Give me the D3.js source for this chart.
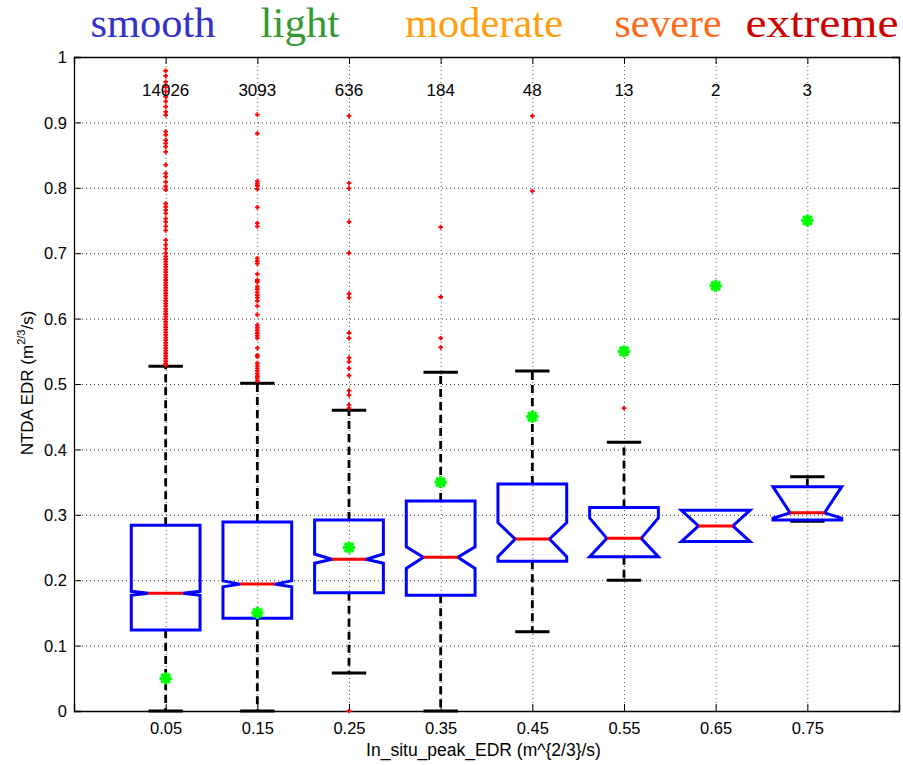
<!DOCTYPE html>
<html><head><meta charset="utf-8">
<script src="https://cdn.jsdelivr.net/npm/d3@7"></script>
<style>body{margin:0;background:#fff}svg{display:block}</style>
</head><body><svg id="c" width="903" height="765"></svg>
<script>
// ---- data ----
const categories = ["0.05","0.15","0.25","0.35","0.45","0.55","0.65","0.75"];
const counts = [14026, 3093, 636, 184, 48, 13, 2, 3];
const refValues = [0.05, 0.15, 0.25, 0.35, 0.45, 0.55, 0.65, 0.75];
const q1 =        [0.124, 0.142, 0.181, 0.177, 0.229, 0.236, 0.259, 0.292];
const medians =   [0.180, 0.194, 0.232, 0.235, 0.263, 0.264, 0.283, 0.303];
const q3 =        [0.284, 0.289, 0.292, 0.321, 0.347, 0.311, 0.307, 0.343];
const notchLo =   [0.177, 0.190, 0.226, 0.218, 0.236, 0.236, 0.259, 0.295];
const notchHi =   [0.183, 0.199, 0.240, 0.251, 0.288, 0.295, 0.307, 0.343];
const whiskerLo = [0.000, 0.000, 0.058, 0.000, 0.121, 0.200, null, 0.290];
const whiskerHi = [0.527, 0.501, 0.460, 0.518, 0.520, 0.411, null, 0.358];
const outliers = [
  [0.979,0.971,0.962,0.954,0.947,0.939,0.932,0.924,0.916,0.911,0.886,0.881,0.873,0.868,0.863,0.855,
   0.835,0.822,0.817,0.809,0.802,0.797,0.776,0.771,0.766,0.761,0.753,0.748,0.741,0.735,0.720,0.713,
   0.707,0.700,0.695,0.691,0.687,0.683,0.679,0.675,0.671,0.667,0.663,0.659,0.655,0.651,0.647,0.643,
   0.639,0.635,0.631,0.627,0.623,0.619,0.615,0.611,0.607,0.603,0.599,0.595,0.591,0.587,0.583,0.579,
   0.575,0.571,0.567,0.563,0.559,0.555,0.551,0.547,0.543,0.539,0.535,0.531,0.529],
  [0.912,0.883,0.810,0.806,0.803,0.798,0.770,0.746,0.741,0.692,0.688,0.684,0.668,0.659,0.656,0.649,
   0.645,0.640,0.636,0.632,0.627,0.619,0.606,0.590,0.586,0.582,0.578,0.574,0.570,0.555,0.544,0.542,
   0.532,0.528,0.524,0.520,0.516,0.512,0.509,0.505],
  [0.910,0.807,0.799,0.748,0.700,0.638,0.632,0.578,0.570,0.540,0.534,0.524,0.513,0.490,0.483,0.468,0.463,0.000],
  [0.740,0.633,0.570,0.556],
  [0.910,0.795],
  [0.463],
  [],
  []
];
const yTicks = [0,0.1,0.2,0.3,0.4,0.5,0.6,0.7,0.8,0.9,1];
const yTickLabels = ["0","0.1","0.2","0.3","0.4","0.5","0.6","0.7","0.8","0.9","1"];
const classNames = ["smooth","light","moderate","severe","extreme"];
const classColors = ["#3333cc","#339933","#ff9f10","#ff6a1a","#cc0000"];
const classCenters = [153, 300, 484, 668, 822];   // x of each class title (pixels of the reference)
const classWidths = [125, 79, 158, 107, 153];

// ---- layout ----
const L = 74, R = 899, T = 57, B = 711;
const svg = d3.select("#c");
const font = "'Liberation Sans', Arial, Helvetica, sans-serif";

const x = d3.scalePoint().domain(categories).range([L, R]).padding(1);
const y = d3.scaleLinear().domain([0, 1]).range([B, T]);
const step = x.step();
const boxW = step * 0.75;

// grid
const grid = svg.append("g");
grid.append("g").attr("transform", `translate(${L},0)`)
  .call(d3.axisLeft(y).tickValues(yTicks.filter(v => v > 0 && v < 1)).tickSize(-(R - L)).tickFormat(""))
  .call(g => g.select(".domain").remove())
  .call(g => g.selectAll("line").attr("stroke", "#333").attr("stroke-dasharray", "1,3"));
grid.append("g").attr("transform", `translate(0,${B})`)
  .call(d3.axisBottom(x).tickSize(-(B - T)).tickFormat(""))
  .call(g => g.select(".domain").remove())
  .call(g => g.selectAll("line").attr("stroke", "#555").attr("stroke-dasharray", "1,3"));

// axes
const axL = svg.append("g").attr("transform", `translate(${L},0)`)
  .call(d3.axisLeft(y).tickValues(yTicks).tickSize(-7).tickPadding(7).tickFormat((d, i) => yTickLabels[i]));
const axR = svg.append("g").attr("transform", `translate(${R},0)`)
  .call(d3.axisRight(y).tickValues(yTicks).tickSize(-7).tickFormat(""));
const axB = svg.append("g").attr("transform", `translate(0,${B})`)
  .call(d3.axisBottom(x).tickSize(-7).tickPadding(14));
const axT = svg.append("g").attr("transform", `translate(0,${T})`)
  .call(d3.axisTop(x).tickSize(-7).tickFormat(""));
[axL, axR, axB, axT].forEach(a => {
  a.select(".domain").attr("stroke", "#000").attr("stroke-width", 1.3);
  a.selectAll(".tick line").attr("stroke", "#000").attr("stroke-width", 1);
  a.selectAll("text").attr("font-family", font).attr("font-size", 16.5).attr("fill", "#000");
});
axB.selectAll("text").attr("y", 0).attr("dy", 0).attr("transform", "translate(0,23)");
axL.selectAll("text").attr("dy", "0.35em");

// boxes
const data = categories.map((c, i) => ({c, i}));
const gBox = svg.append("g");

// whiskers
data.forEach(d => {
  const i = d.i, cx = x(d.c);
  if (whiskerHi[i] !== null) {
    gBox.append("line").attr("x1", cx).attr("x2", cx).attr("y1", y(q3[i])).attr("y2", y(whiskerHi[i]))
      .attr("stroke", "#000").attr("stroke-width", 2.8).attr("stroke-dasharray", "8,5");
    gBox.append("line").attr("x1", cx).attr("x2", cx).attr("y1", y(q1[i])).attr("y2", y(whiskerLo[i]))
      .attr("stroke", "#000").attr("stroke-width", 2.8).attr("stroke-dasharray", "8,5");
    [whiskerHi[i], whiskerLo[i]].forEach(v => {
      gBox.append("line").attr("x1", cx - boxW / 4).attr("x2", cx + boxW / 4)
        .attr("y1", y(v)).attr("y2", y(v)).attr("stroke", "#000").attr("stroke-width", 3);
    });
  }
});

// notched boxes
const boxPath = i => {
  const cx = x(categories[i]);
  const l = cx - boxW / 2, r = cx + boxW / 2, il = cx - boxW / 4, ir = cx + boxW / 4;
  const p = d3.path();
  p.moveTo(l, y(q1[i])); p.lineTo(l, y(notchLo[i])); p.lineTo(il, y(medians[i]));
  p.lineTo(l, y(notchHi[i])); p.lineTo(l, y(q3[i])); p.lineTo(r, y(q3[i]));
  p.lineTo(r, y(notchHi[i])); p.lineTo(ir, y(medians[i])); p.lineTo(r, y(notchLo[i]));
  p.lineTo(r, y(q1[i])); p.closePath();
  return p.toString();
};
gBox.selectAll("path.box").data(data).join("path").attr("class", "box")
  .attr("d", d => boxPath(d.i)).attr("fill", "none").attr("stroke", "#0000ff")
  .attr("stroke-width", 3).attr("stroke-linejoin", "miter");
gBox.selectAll("line.med").data(data).join("line").attr("class", "med")
  .attr("x1", d => x(d.c) - boxW / 4).attr("x2", d => x(d.c) + boxW / 4)
  .attr("y1", d => y(medians[d.i])).attr("y2", d => y(medians[d.i]))
  .attr("stroke", "#ff0000").attr("stroke-width", 3);

// outliers (plus markers)
const plusSym = { draw(ctx, size) { const r = Math.sqrt(size) / 2; ctx.moveTo(-r, 0); ctx.lineTo(r, 0); ctx.moveTo(0, -r); ctx.lineTo(0, r); } };
const outPts = data.flatMap(d => outliers[d.i].map(v => ({c: d.c, v})));
svg.append("g").selectAll("path").data(outPts).join("path")
  .attr("transform", d => `translate(${x(d.c)},${y(d.v)})`)
  .attr("d", d3.symbol(plusSym, 22)).attr("stroke", "#ff0000").attr("stroke-width", 1.8).attr("fill", "none");

// reference values (green asterisks)
const starSym = { draw(ctx, size) { const r = Math.sqrt(size) / 2;
  for (let k = 0; k < 4; k++) { const a = k * Math.PI / 4; ctx.moveTo(-r * Math.cos(a), -r * Math.sin(a)); ctx.lineTo(r * Math.cos(a), r * Math.sin(a)); } } };
svg.append("g").selectAll("path").data(data).join("path")
  .attr("transform", d => `translate(${x(d.c)},${y(refValues[d.i])})`)
  .attr("d", d3.symbol(starSym, 150)).attr("stroke", "#00ff00").attr("stroke-width", 3.2).attr("fill", "none");

// counts
svg.append("g").selectAll("text").data(data).join("text")
  .attr("x", d => x(d.c)).attr("y", y(0.95)).attr("dy", "0.35em")
  .attr("text-anchor", "middle").attr("font-family", font).attr("font-size", 17).attr("fill", "#000")
  .text(d => counts[d.i]);

// class titles
svg.append("g").selectAll("text").data(classNames).join("text")
  .attr("x", (d, i) => classCenters[i]).attr("y", 37).attr("text-anchor", "middle")
  .attr("font-family", "'Liberation Serif', 'Times New Roman', serif").attr("font-size", 42)
  .attr("fill", (d, i) => classColors[i])
  .attr("textLength", (d, i) => classWidths[i]).attr("lengthAdjust", "spacingAndGlyphs")
  .text(d => d);

// axis labels
const xl = svg.append("text").attr("x", (L + R) / 2 - 3).attr("y", 756).attr("text-anchor", "middle")
  .attr("font-family", font).attr("font-size", 17.5).attr("fill", "#000")
  .text("In_situ_peak_EDR (m^{2/3}/s)");
const yl = svg.append("text").attr("transform", "translate(33,383) rotate(-90)").attr("text-anchor", "middle")
  .attr("font-family", font).attr("font-size", 17).attr("fill", "#000");
yl.append("tspan").text("NTDA EDR (m");
yl.append("tspan").attr("font-size", 11).attr("dy", -8).text("2/3");
yl.append("tspan").attr("dy", 8).text("/s)");
</script></body></html>
